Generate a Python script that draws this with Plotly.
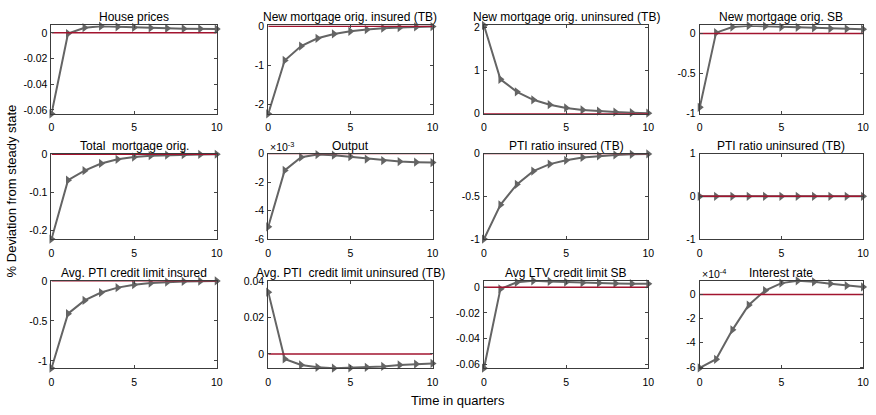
import plotly.graph_objects as go

quarters = list(range(11))

titles = [
    "House prices", "New mortgage orig. insured (TB)", "New mortgage orig. uninsured (TB)", "New mortgage orig. SB",
    "Total  mortgage orig.", "Output", "PTI ratio insured (TB)", "PTI ratio uninsured (TB)",
    "Avg. PTI credit limit insured", "Avg. PTI  credit limit uninsured (TB)", "Avg LTV credit limit SB", "Interest rate",
]

house_prices = [-0.063, -0.0005, 0.004, 0.0052, 0.0047, 0.0042, 0.0038, 0.0035, 0.0033, 0.0032, 0.003]
new_mort_insured = [-2.25, -0.88, -0.51, -0.31, -0.20, -0.13, -0.085, -0.05, -0.035, -0.02, -0.01]
new_mort_uninsured = [2.05, 0.80, 0.51, 0.325, 0.21, 0.135, 0.09, 0.06, 0.04, 0.025, 0.015]
new_mort_sb = [-0.92, 0.01, 0.08, 0.097, 0.09, 0.08, 0.077, 0.07, 0.061, 0.057, 0.053]
total_mort = [-0.223, -0.068, -0.043, -0.024, -0.013, -0.007, -0.0034, -0.0017, -0.001, -0.0003, 0.0003]
output = [-5.14e-3, -1.18e-3, -0.25e-3, -0.07e-3, -0.11e-3, -0.22e-3, -0.38e-3, -0.49e-3, -0.56e-3, -0.60e-3, -0.63e-3]
pti_insured = [-1.0, -0.60, -0.36, -0.205, -0.123, -0.078, -0.045, -0.026, -0.015, -0.008, -0.004]
pti_uninsured = [0.0] * 11
pti_limit_insured = [-1.09, -0.41, -0.245, -0.146, -0.085, -0.049, -0.028, -0.016, -0.008, -0.004, -0.002]
pti_limit_uninsured = [0.0338, -0.0027, -0.006, -0.0073, -0.0078, -0.0076, -0.0073, -0.0068, -0.006, -0.0055, -0.0052]
ltv_limit_sb = [-0.063, -0.0013, 0.0038, 0.005, 0.0045, 0.004, 0.0035, 0.0033, 0.003, 0.0028, 0.0027]
interest_rate = [-6.08e-4, -5.36e-4, -2.93e-4, -0.88e-4, 0.32e-4, 0.93e-4, 1.12e-4, 1.04e-4, 0.88e-4, 0.72e-4, 0.61e-4]

series = [house_prices, new_mort_insured, new_mort_uninsured, new_mort_sb,
          total_mort, output, pti_insured, pti_uninsured,
          pti_limit_insured, pti_limit_uninsured, ltv_limit_sb, interest_rate]

y_ranges = [
    [-0.063, 0.0058], [-2.25, 0.02], [0, 2.05], [-1, 0.1],
    [-0.223, 0.002], [-6e-3, 0], [-1, 0], [-1, 1],
    [-1.09, 0.0], [-0.0078, 0.04], [-0.063, 0.005], [-6.1e-4, 1.12e-4],
]
y_tickvals = [
    [-0.06, -0.04, -0.02, 0], [-2, -1, 0], [0, 1, 2], [-1, -0.5, 0],
    [-0.2, -0.1, 0], [-6e-3, -4e-3, -2e-3, 0], [-1, -0.5, 0], [-1, 0, 1],
    [-1, -0.5, 0], [0, 0.02, 0.04], [-0.06, -0.04, -0.02, 0], [-6e-4, -4e-4, -2e-4, 0],
]
y_ticktext = [
    ["-0.06", "-0.04", "-0.02", "0"], ["-2", "-1", "0"], ["0", "1", "2"], ["-1", "-0.5", "0"],
    ["-0.2", "-0.1", "0"], ["-6", "-4", "-2", "0"], ["-1", "-0.5", "0"], ["-1", "0", "1"],
    ["-1", "-0.5", "0"], ["0", "0.02", "0.04"], ["-0.06", "-0.04", "-0.02", "0"], ["-6", "-4", "-2", "0"],
]
exponents = {5: "-3", 11: "-4"}
x_ticks = [0, 5, 10]

W, H = 876, 415
col_px = [(49, 216), (268, 434), (486, 652), (704, 869)]
row_px = [(20, 111), (152, 240), (283, 373)]


def px_x(v):
    return v / W


def px_y(v):
    return 1 - v / H


FONT = "Liberation Sans, Arial, Helvetica, sans-serif"
GRAY = "rgb(100,100,100)"
RED = "rgb(162,20,47)"
AX = "rgb(60,60,60)"

fig = go.Figure()
annotations = []
layout = {}
for i in range(12):
    r, c = divmod(i, 4)
    n = i + 1
    xs = "" if n == 1 else str(n)
    x0, x1 = col_px[c]
    yt, yb = row_px[r]
    dx = [px_x(x0), px_x(x1)]
    dy = [px_y(yb), px_y(yt)]
    fig.add_trace(go.Scatter(
        x=quarters, y=series[i], mode="lines+markers",
        line=dict(color=GRAY, width=2),
        marker=dict(symbol="triangle-right", size=8, color=GRAY),
        xaxis="x" + xs, yaxis="y" + xs, showlegend=False, cliponaxis=False))
    fig.add_trace(go.Scatter(
        x=[quarters[0], quarters[-1]], y=[0, 0], mode="lines",
        line=dict(color=RED, width=1.5),
        xaxis="x" + xs, yaxis="y" + xs, showlegend=False))
    layout["xaxis" + xs] = dict(
        domain=dx, anchor="y" + xs, range=[0, 10], tickvals=x_ticks,
        ticktext=[str(v) for v in x_ticks], ticks="inside", ticklen=3,
        ticklabelstandoff=4,
        showline=True, linecolor=AX, linewidth=1, mirror="allticks",
        showgrid=False, zeroline=False, tickfont=dict(size=10.5, color="black", family=FONT))
    layout["yaxis" + xs] = dict(
        domain=dy, anchor="x" + xs, range=y_ranges[i], tickvals=y_tickvals[i],
        ticktext=y_ticktext[i], ticks="inside", ticklen=3,
        ticklabelstandoff=1,
        showline=True, linecolor=AX, linewidth=1, mirror="allticks",
        showgrid=False, zeroline=False, tickfont=dict(size=10.5, color="black", family=FONT))
    annotations.append(dict(
        text=titles[i], x=(dx[0] + dx[1]) / 2, y=dy[1], xref="paper", yref="paper",
        xanchor="center", yanchor="bottom", yshift=-1, showarrow=False,
        font=dict(size=12, color="black", family=FONT)))
    if i in exponents:
        annotations.append(dict(
            text="\u00d710<sup>" + exponents[i] + "</sup>", x=dx[0], y=dy[1], xref="paper", yref="paper",
            xanchor="left", yanchor="bottom", yshift=-1, showarrow=False,
            font=dict(size=10.5, color="black", family=FONT)))

annotations.append(dict(
    text="% Deviation from steady state", x=px_x(9), y=px_y(190), xref="paper", yref="paper",
    xanchor="center", yanchor="middle", textangle=-90, showarrow=False,
    font=dict(size=13, color="black", family=FONT)))
annotations.append(dict(
    text="Time in quarters", x=px_x(460), y=px_y(406), xref="paper", yref="paper",
    xanchor="center", yanchor="middle", showarrow=False,
    font=dict(size=13, color="black", family=FONT)))

fig.update_layout(
    width=W, height=H, margin=dict(l=0, r=0, t=0, b=0),
    paper_bgcolor="white", plot_bgcolor="white",
    annotations=annotations, **layout)

fig.write_html("out.html", config={"displayModeBar": False},
               post_script="document.body.style.margin='0';document.body.style.overflow='hidden';")
